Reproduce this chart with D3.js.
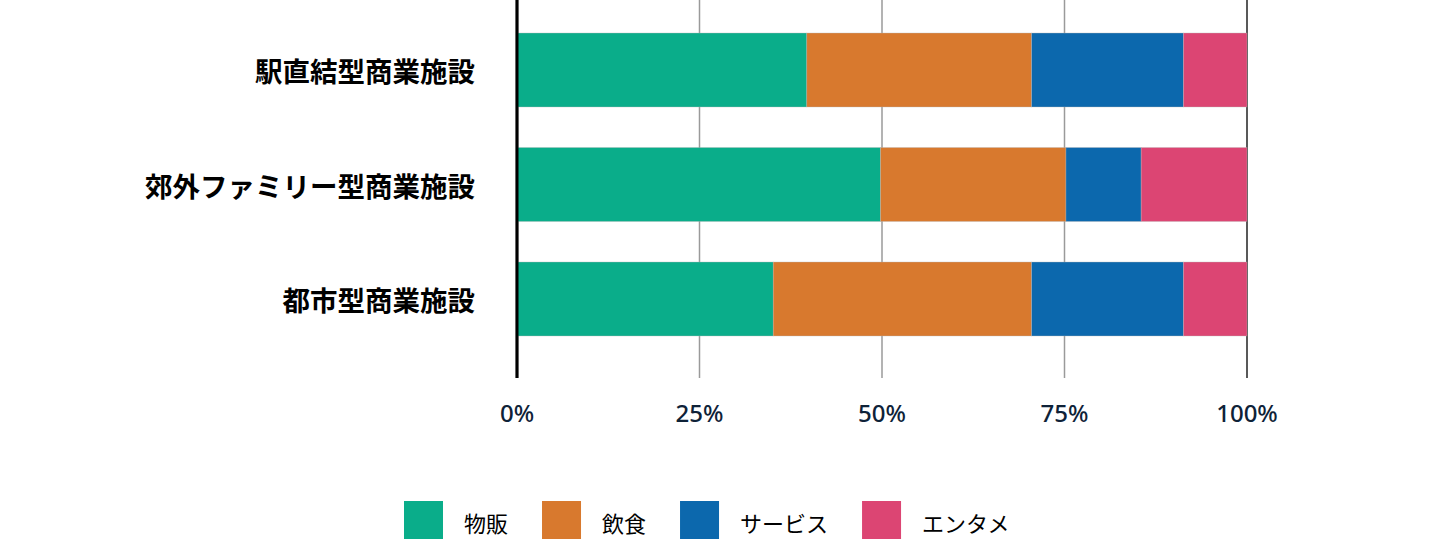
<!DOCTYPE html>
<html>
<head>
<meta charset="utf-8">
<script src="https://cdn.jsdelivr.net/npm/d3@7"></script>
<style>
  body { margin: 0; background: #fff; }
  svg { display: block; }
</style>
</head>
<body>
<div id="chart"></div>
<script>
const categories = ['駅直結型商業施設', '郊外ファミリー型商業施設', '都市型商業施設'];
const seriesNames = ['物販', '飲食', 'サービス', 'エンタメ'];
const seriesColors = ['#0aad8a', '#d8792e', '#0c68ad', '#dc4573'];
// percent share per category, in series order
const buppan  = [39.7, 49.8, 35.1];
const inshoku = [30.8, 25.4, 35.4];
const service = [20.8, 10.3, 20.8];
const entame  = [8.7, 14.5, 8.7];
const tickValues = [0, 25, 50, 75, 100];

const width = 1440;
const height = 539;
const margin = {left: 517, right: 193};

const data = categories.map((c, i) => ({
  name: c,
  '物販': buppan[i],
  '飲食': inshoku[i],
  'サービス': service[i],
  'エンタメ': entame[i]
}));

const stack = d3.stack().keys(seriesNames);
const series = stack(data);

const x = d3.scaleLinear()
  .domain([0, 100])
  .range([margin.left, width - margin.right]);

const y = d3.scaleBand()
  .domain(categories)
  .range([12.75, 356.25])
  .paddingInner(0.354)
  .paddingOuter(0.177);

const color = d3.scaleOrdinal().domain(seriesNames).range(seriesColors);

const svg = d3.select('#chart').append('svg')
  .attr('width', width)
  .attr('height', height);

// grid lines
svg.append('g')
  .selectAll('line').data(tickValues).enter().append('line')
  .attr('x1', d => x(d))
  .attr('x2', d => x(d))
  .attr('y1', 0)
  .attr('y2', 378)
  .attr('stroke', d => d === 100 ? '#222' : '#9a9a9a')
  .attr('stroke-width', d => d === 0 ? 3 : 1.5);

// bars
svg.append('g')
  .selectAll('g').data(series).enter().append('g')
  .attr('fill', d => color(d.key))
  .selectAll('rect').data(d => d).enter().append('rect')
  .attr('x', d => x(d[0]))
  .attr('y', d => y(d.data.name))
  .attr('width', d => x(d[1]) - x(d[0]))
  .attr('height', y.bandwidth())
  .attr('stroke', '#b8b8b8')
  .attr('stroke-width', 0.6)
  .attr('stroke-opacity', 0.6);

// redraw left axis line over bars
svg.append('line')
  .attr('x1', x(0)).attr('x2', x(0))
  .attr('y1', 0).attr('y2', 378)
  .attr('stroke', '#000')
  .attr('stroke-width', 3);

// category labels
svg.append('g')
  .selectAll('text').data(categories).enter().append('text')
  .attr('x', 475)
  .attr('y', d => y(d) + y.bandwidth() / 2)
  .attr('text-anchor', 'end')
  .attr('dominant-baseline', 'central')
  .attr('font-family', '"Noto Sans CJK JP", sans-serif')
  .attr('font-weight', 700)
  .attr('font-size', 27.5)
  .attr('fill', '#000')
  .text(d => d);

// x tick labels
svg.append('g')
  .selectAll('text').data(tickValues).enter().append('text')
  .attr('x', d => x(d))
  .attr('y', 412)
  .attr('text-anchor', 'middle')
  .attr('dominant-baseline', 'central')
  .attr('font-family', '"Noto Sans", sans-serif')
  .attr('font-size', 24)
  .attr('font-weight', 500)
  .attr('fill', '#0e2238')
  .text(d => d + '%');

// legend
const legend = svg.append('g');
let lx = 404;
seriesNames.forEach(function(name) {
  legend.append('rect')
    .attr('x', lx)
    .attr('y', 501)
    .attr('width', 39)
    .attr('height', 40)
    .attr('fill', color(name));
  const t = legend.append('text')
    .attr('x', lx + 60)
    .attr('y', 522)
    .attr('dominant-baseline', 'central')
    .attr('font-family', '"Noto Sans CJK JP", sans-serif')
    .attr('font-size', 22)
    .attr('fill', '#000')
    .text(name);
  lx = lx + 60 + t.node().getComputedTextLength() + 34;
});
</script>
</body>
</html>
